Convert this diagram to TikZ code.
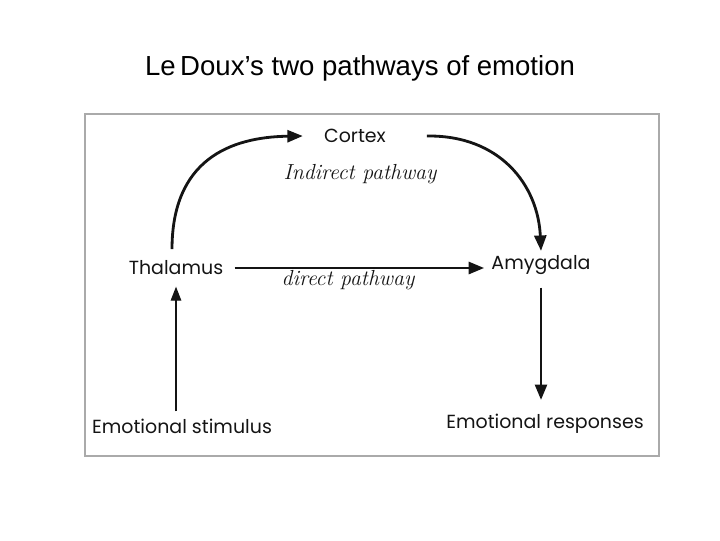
\documentclass[tikz,border=0pt]{standalone}
\usepackage{fontspec}
\newfontfamily\titlefont{Liberation Sans}
\newfontfamily\geofont{Poppins}
\usepackage{tikz}
\usetikzlibrary{arrows.meta, positioning, calc}
\definecolor{primary}{RGB}{20, 20, 20}
\definecolor{framegray}{RGB}{170, 170, 170}
\begin{document}
\begin{tikzpicture}[
		x=0.025cm, y=-0.025cm,
		box/.style={font=\geofont\fontsize{13.5}{15}\selectfont, text=primary, inner sep=1pt},
		pathlabel/.style={font=\itshape\fontsize{15.5}{17}\selectfont, text=primary},
		arrow/.style={-{Triangle[length=11pt, width=8.5pt]}, line width=2pt, color=primary},
		thinarrow/.style={-{Triangle[length=10pt, width=7.5pt]}, line width=1pt, color=primary}
		]
		\useasboundingbox (0, 0) rectangle (720, 540);
		\node[font=\titlefont\fontsize{19.6}{22}\selectfont] (title) at (360, 68) {Le\,Doux’s two pathways of emotion};
		\draw[framegray, line width=1.2pt] (85, 114) rectangle (659, 456);
		
		\node[box] (cortex) at (355, 136) {Cortex};
		\node[box] (thalamus) at (176, 268) {Thalamus};
		\node[box] (amygdala) at (541, 265) {Amygdala};
		\node[box] (stimulus) at (182, 426) {Emotional stimulus};
		\node[box] (responses) at (545, 424) {Emotional responses};
		
		\node[pathlabel] (indirect) at (360, 174) {Indirect pathway};
		\node[pathlabel] (direct) at (348, 280) {direct pathway};
		
		\draw[arrow] (thalamus.north) ++(-4, -10)
		.. controls (172, 160) and (230, 137) .. ([xshift=-14pt]cortex.west) ;
		\draw[arrow] ([xshift=28pt]cortex.east)
		.. controls (500, 135) and (538, 185) .. ([yshift=2pt]amygdala.north) ;
		\draw[arrow] ([xshift=7pt]thalamus.east) -- ([xshift=-4pt]thalamus.east -| amygdala.west) ;
		\draw[thinarrow] ([yshift=4pt]stimulus.north -| thalamus) -- ([yshift=-7pt]thalamus.south) ;
		\draw[arrow] ([yshift=-8pt]amygdala.south) -- ([yshift=9pt]responses.north -| amygdala) ;
	\end{tikzpicture}
\end{document}
